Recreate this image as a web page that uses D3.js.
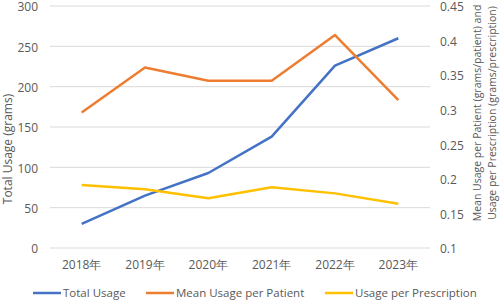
<!DOCTYPE html>
<html><head><meta charset="utf-8">
<script src="https://cdn.jsdelivr.net/npm/d3@7"></script>
<style>
body{margin:0;background:#fff;}
text{font-family:"Open Sans","Noto Sans",sans-serif;fill:#595959;}
</style></head>
<body><svg id="c" width="500" height="300"></svg>
<script>
const years = ["2018年","2019年","2020年","2021年","2022年","2023年"];
const totalUsage = [30, 65, 93, 138, 226, 260];
const meanPerPatient = [0.296, 0.361, 0.342, 0.342, 0.408, 0.314];
const perPrescription = [0.191, 0.185, 0.172, 0.188, 0.179, 0.164];
const leftTicks = [0, 50, 100, 150, 200, 250, 300];
const rightTicks = [0.1, 0.15, 0.2, 0.25, 0.3, 0.35, 0.4, 0.45];
const seriesNames = ["Total Usage", "Mean Usage per Patient", "Usage per Prescription"];
const colors = ["#4472C4", "#ED7D31", "#FFC000"];

(function(){
const svg = d3.select("#c");
const pL = 50, pR = 430, pT = 6, pB = 248;
const x = d3.scaleBand().domain(years).range([pL, pR]);
const yL = d3.scaleLinear().domain([0, 300]).range([pB, pT]);
const yR = d3.scaleLinear().domain([0.1, 0.45]).range([pB, pT]);

svg.append("g").selectAll("line").data(leftTicks).join("line")
  .attr("x1", pL).attr("x2", pR)
  .attr("y1", d => yL(d)).attr("y2", d => yL(d))
  .attr("stroke", "#d9d9d9").attr("stroke-width", 1);

const gL = svg.append("g").attr("transform", `translate(${pL},0)`)
  .call(d3.axisLeft(yL).tickValues(leftTicks).tickSize(0).tickPadding(12));
gL.select(".domain").remove();
gL.selectAll("text").style("font-size", "12px").attr("fill", "#595959").attr("dy", "0.4em");

const gR = svg.append("g").attr("transform", `translate(${pR},0)`)
  .call(d3.axisRight(yR).tickValues(rightTicks).tickSize(0).tickPadding(10).tickFormat(d3.format("")));
gR.select(".domain").remove();
gR.selectAll("text").style("font-size", "12px").attr("fill", "#595959").attr("dy", "0.4em");

const gX = svg.append("g").attr("transform", `translate(0,${pB})`)
  .call(d3.axisBottom(x).tickSize(0).tickPadding(12));
gX.select(".domain").remove();
gX.selectAll("text").style("font-size", "12px").attr("fill", "#595959");

svg.append("text").attr("transform", "translate(12,149) rotate(-90)")
  .attr("text-anchor", "middle").style("font-size", "12px").text("Total Usage (grams)");
svg.append("text").attr("transform", "translate(481,113) rotate(-90)")
  .attr("text-anchor", "middle").style("font-size", "10.5px").text("Mean Usage per Patient (grams/patient) and");
svg.append("text").attr("transform", "translate(496,113) rotate(-90)")
  .attr("text-anchor", "middle").style("font-size", "10.5px").text("Usage per Prescription (grams/prescription)");

const cx = d => x(d) + x.bandwidth() / 2;
const lineL = d3.line().x((d, i) => cx(years[i])).y(d => yL(d));
const lineR = d3.line().x((d, i) => cx(years[i])).y(d => yR(d));

svg.append("path").datum(totalUsage).attr("d", lineL)
  .attr("fill", "none").attr("stroke", colors[0]).attr("stroke-width", 2.5).attr("stroke-linejoin", "round");
svg.append("path").datum(meanPerPatient).attr("d", lineR)
  .attr("fill", "none").attr("stroke", colors[1]).attr("stroke-width", 2.5).attr("stroke-linejoin", "round");
svg.append("path").datum(perPrescription).attr("d", lineR)
  .attr("fill", "none").attr("stroke", colors[2]).attr("stroke-width", 2.5).attr("stroke-linejoin", "round");

const legendX = [33, 146, 325];
const lg = svg.append("g");
seriesNames.forEach((n, i) => {
  lg.append("line").attr("x1", legendX[i]).attr("x2", legendX[i] + 28)
    .attr("y1", 293).attr("y2", 293).attr("stroke", colors[i]).attr("stroke-width", 2.5);
  lg.append("text").attr("x", legendX[i] + 30).attr("y", 297)
    .style("font-size", "11.5px").text(n);
});
})();
</script></body></html>
